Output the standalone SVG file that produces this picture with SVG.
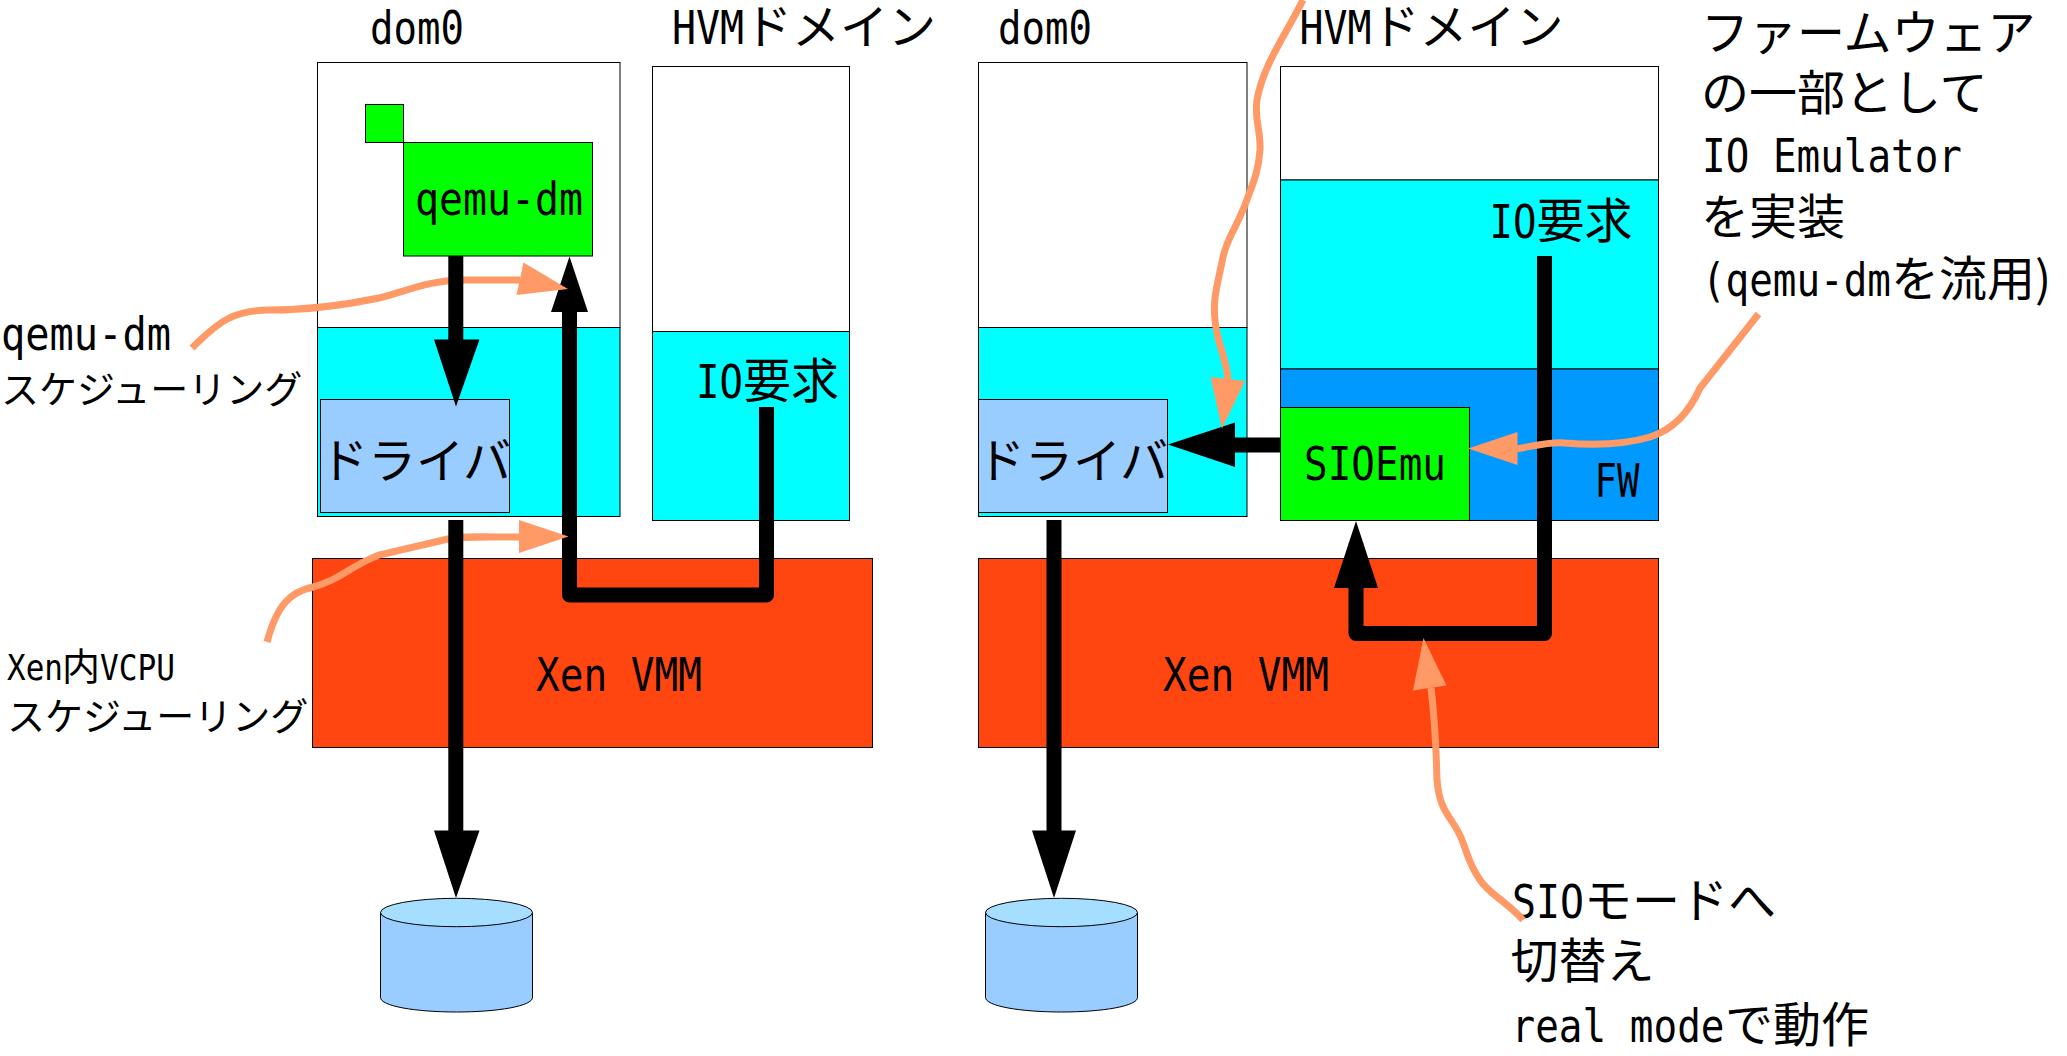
<svg xmlns="http://www.w3.org/2000/svg" width="2067" height="1056" viewBox="0 0 2067 1056">
<style>
text{font-family:"DejaVu Sans Mono","Noto Sans CJK JP",monospace;font-size:47px;fill:#000}
.j{font-family:"Noto Sans CJK JP",sans-serif;font-size:48px}
.v{font-family:"Noto Sans CJK JP",sans-serif;font-size:48px}
.s{font-family:"Noto Sans CJK JP",sans-serif;font-size:38px}
.sl{font-size:36px}
.b{stroke:#000;stroke-width:1}
.k{fill:none;stroke:#000;stroke-width:15;stroke-linejoin:round}
.h{fill:#000}
.o{fill:none;stroke:#ff9966;stroke-width:7}
.oh{fill:#ff9966}
.w{fill:#fff}.c{fill:#0ff}.g{fill:#0f0}.d{fill:#9cf}.x{fill:#ff4611}.f{fill:#09f}.t{fill:#a6deff}
</style>
<g id="left-dom0">
<rect class="b w" x="317.5" y="62.5" width="302.5" height="265"/>
<rect class="b c" x="317.5" y="327.5" width="302.5" height="189"/>
<text x="370" y="43.5" textLength="94" lengthAdjust="spacingAndGlyphs">dom0</text>
</g>
<g id="left-hvm">
<rect class="b w" x="652.5" y="66.5" width="197" height="265"/>
<rect class="b c" x="652.5" y="331.5" width="197" height="189"/>
<text y="43.5"><tspan x="672" textLength="72" lengthAdjust="spacingAndGlyphs">HVM</tspan><tspan class="j" x="744">ドメイン</tspan></text>
<text y="398"><tspan x="696" textLength="47" lengthAdjust="spacingAndGlyphs">IO</tspan><tspan class="j" x="743">要求</tspan></text>
</g>
<g id="left-qemu">
<rect class="b g" x="365.5" y="104.5" width="38" height="38"/>
<rect class="b g" x="403.5" y="142.5" width="189" height="113.5"/>
<text x="415" y="215" textLength="168" lengthAdjust="spacingAndGlyphs">qemu-dm</text>
</g>
<g id="left-driver">
<rect class="b d" x="320.5" y="399.5" width="189" height="113"/>
<text class="v" x="320" y="478">ドライバ</text>
</g>
<g id="left-xen">
<rect class="b x" x="312.5" y="558.5" width="560" height="189"/>
<text x="536" y="691" textLength="166" lengthAdjust="spacingAndGlyphs">Xen VMM</text>
</g>
<g id="left-disk">
<path class="b d" d="M380.5 912.5V997.5C380.5 1006 415 1012 456.5 1012S532.5 1006 532.5 997.5V912.5Z"/>
<ellipse class="b t" cx="456.5" cy="912.5" rx="76" ry="14.2"/>
</g>
<g id="right-dom0">
<rect class="b w" x="978.5" y="62.5" width="268.5" height="265"/>
<rect class="b c" x="978.5" y="327.5" width="268.5" height="189"/>
<text x="998" y="43.5" textLength="94" lengthAdjust="spacingAndGlyphs">dom0</text>
</g>
<g id="right-driver">
<rect class="b d" x="978.5" y="399.5" width="189" height="113"/>
<text class="v" x="977" y="478">ドライバ</text>
</g>
<g id="right-hvm">
<rect class="b w" x="1280.5" y="66.5" width="378" height="113.5"/>
<rect class="b c" x="1280.5" y="180" width="378" height="189"/>
<rect class="b f" x="1280.5" y="369" width="378" height="151.5"/>
<text y="43.5"><tspan x="1299.5" textLength="72" lengthAdjust="spacingAndGlyphs">HVM</tspan><tspan class="j" x="1371.5">ドメイン</tspan></text>
<text y="237.5"><tspan x="1489.5" textLength="47" lengthAdjust="spacingAndGlyphs">IO</tspan><tspan class="j" x="1536.5">要求</tspan></text>
<text x="1594.5" y="496.5" textLength="45" lengthAdjust="spacingAndGlyphs">FW</text>
</g>
<g id="right-sioemu">
<rect class="b g" x="1280.5" y="407.5" width="189" height="113"/>
<text x="1304" y="480" textLength="142" lengthAdjust="spacingAndGlyphs">SIOEmu</text>
</g>
<g id="right-xen">
<rect class="b x" x="978.5" y="558.5" width="680" height="189"/>
<text x="1163" y="691" textLength="166" lengthAdjust="spacingAndGlyphs">Xen VMM</text>
</g>
<g id="right-disk">
<path class="b d" d="M985.5 912.5V997.5C985.5 1006 1020 1012 1061.5 1012S1137.5 1006 1137.5 997.5V912.5Z"/>
<ellipse class="b t" cx="1061.5" cy="912.5" rx="76" ry="14.2"/>
</g>
<g id="notes">
<text x="1" y="350" textLength="170" lengthAdjust="spacingAndGlyphs">qemu-dm</text>
<text class="s" x="1" y="403">スケジューリング</text>
<text y="680"><tspan class="sl" x="7" textLength="56" lengthAdjust="spacingAndGlyphs">Xen</tspan><tspan class="s" x="62">内</tspan><tspan class="sl" x="100" textLength="75" lengthAdjust="spacingAndGlyphs">VCPU</tspan></text>
<text class="s" x="7" y="730">スケジューリング</text>
<text class="j" x="1701" y="50">ファームウェア</text>
<text class="j" x="1701" y="110">の一部として</text>
<text x="1702" y="171.5" textLength="260" lengthAdjust="spacingAndGlyphs">IO Emulator</text>
<text class="j" x="1701" y="234">を実装</text>
<text y="295.5"><tspan x="1702" textLength="189" lengthAdjust="spacingAndGlyphs">(qemu-dm</tspan><tspan class="j" x="1891">を流用)</tspan></text>
<text y="917.5"><tspan x="1512" textLength="72" lengthAdjust="spacingAndGlyphs">SIO</tspan><tspan class="j" x="1584">モードへ</tspan></text>
<text class="j" x="1510.5" y="978">切替え</text>
<text y="1042"><tspan x="1511.5" textLength="213" lengthAdjust="spacingAndGlyphs">real mode</tspan><tspan class="j" x="1725">で動作</tspan></text>
</g>
<g id="connectors">
<polyline class="k" points="766.5,407 766.5,595 569.5,595 569.5,310"/>
<polygon class="h" points="569.5,256.5 588,312 551,312"/>
<path class="o" d="M192 348C220 320 235 310 270 310C305 310 345 305 379 298C410 290 430 280 465 280H520"/>
<polygon class="oh" points="568,289 523.5,262.5 516.5,295"/>
<path class="o" d="M267 642C277 605 290 592 313 587C340 580 350 566 379 555L448 539C460 536 480 537 520 537"/>
<polygon class="oh" points="568.5,536.5 519,520 519,553"/>
<line class="k" x1="455.8" y1="256" x2="455.8" y2="342"/>
<polygon class="h" points="434,339.5 479.5,339.5 456,406.5"/>
<line class="k" x1="455.8" y1="520" x2="455.8" y2="832"/>
<polygon class="h" points="434,830.5 479.5,830.5 456,898"/>
<line class="k" x1="1054" y1="520" x2="1054" y2="832"/>
<polygon class="h" points="1032,830.5 1076,830.5 1054,898"/>
<polyline class="k" points="1544.5,256 1544.5,633.5 1356,633.5 1356,586"/>
<polygon class="h" points="1356,521 1378,588 1334,588"/>
<line class="k" x1="1280.5" y1="445" x2="1233" y2="445"/>
<polygon class="h" points="1168,444.5 1235,422.5 1235,467"/>
<path class="o" d="M1303 0C1285 36 1263 65 1257 100C1254 120 1261 130 1260 150C1258 175 1252 185 1245 205C1235 230 1226 240 1222 262C1216 290 1213 300 1215 320C1217 345 1226 355 1228 380"/>
<polygon class="oh" points="1222,428.5 1210.5,377 1245,381"/>
<path class="o" d="M1758.5 314L1700 388C1688 415 1672 430 1650 437C1620 446 1590 445 1565 443C1550 441 1535 446 1516 449"/>
<polygon class="oh" points="1468,448.5 1517.5,432 1517.5,465"/>
<path class="o" d="M1523 920C1505 900 1490 895 1480 880C1468 862 1468 855 1462 840C1452 815 1440 815 1437 780C1436 750 1436 730 1431 688"/>
<polygon class="oh" points="1423.5,638 1413,690.5 1446.5,685.5"/>
</g>
</svg>
